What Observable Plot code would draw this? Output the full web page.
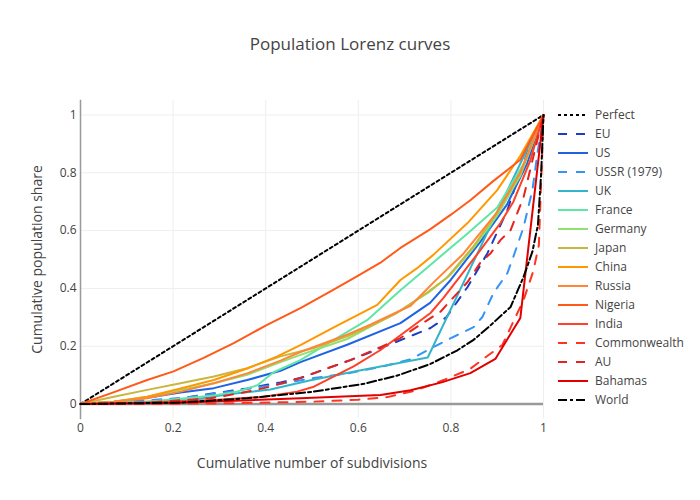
<!DOCTYPE html>
<html>
<head>
<meta charset="utf-8">
<script src="https://cdn.jsdelivr.net/npm/d3@7"></script>
<script src="https://cdn.jsdelivr.net/npm/@observablehq/plot@0.6"></script>
<style>
  html, body { margin: 0; padding: 0; background: #fff; }
  #wrap { position: relative; width: 700px; height: 500px; font-family: "Open Sans", sans-serif; }
  #title { position: absolute; left: 0; width: 700px; top: 32px; text-align: center; font-size: 17px; color: #444; }
  #legend { position: absolute; left: 556px; top: 105px; font-size: 12px; color: #444; }
  #legend .row { height: 19px; display: flex; align-items: center; }
  #legend svg { margin-right: 5px; }
</style>
</head>
<body>
<div id="wrap">
  <div id="title">Population Lorenz curves</div>
  <div id="legend"></div>
</div>
<script>
// ---- data (x = cumulative share of subdivisions, y = cumulative population share) ----
const perfect = [[0,0],[1,1]];
const eu = [[0,0],[0.144,0.008],[0.216,0.02],[0.288,0.037],[0.36,0.054],[0.432,0.075],[0.475,0.09],[0.583,0.152],[0.676,0.211],[0.756,0.263],[0.79,0.3],[0.836,0.405],[0.879,0.522],[0.922,0.671],[0.946,0.786],[0.978,0.924],[1,1]];
const us = [[0,0],[0.072,0.008],[0.144,0.022],[0.216,0.04],[0.288,0.055],[0.36,0.083],[0.432,0.115],[0.475,0.145],[0.576,0.205],[0.691,0.28],[0.755,0.35],[0.8,0.43],[0.863,0.56],[0.921,0.69],[0.964,0.83],[1,1]];
const ussr = [[0,0],[0.216,0.02],[0.31,0.04],[0.432,0.07],[0.504,0.09],[0.576,0.106],[0.648,0.128],[0.713,0.155],[0.762,0.197],[0.8,0.228],[0.849,0.266],[0.868,0.301],[0.892,0.384],[0.922,0.453],[0.935,0.51],[0.957,0.612],[0.976,0.74],[0.987,0.868],[1,1]];
const uk = [[0,0],[0.1,0.005],[0.237,0.014],[0.324,0.035],[0.41,0.05],[0.497,0.082],[0.6,0.115],[0.75,0.161],[1,1]];
const france = [[0,0],[0.144,0.008],[0.216,0.018],[0.288,0.03],[0.338,0.043],[0.382,0.065],[0.417,0.11],[0.475,0.152],[0.54,0.215],[0.619,0.29],[0.691,0.394],[0.762,0.49],[0.836,0.59],[0.9,0.68],[0.957,0.83],[1,1]];
const germany = [[0,0],[0.072,0.008],[0.144,0.025],[0.216,0.049],[0.288,0.072],[0.36,0.101],[0.432,0.145],[0.475,0.17],[0.576,0.225],[0.626,0.268],[0.683,0.315],[0.755,0.39],[0.799,0.447],[0.849,0.54],[0.899,0.65],[0.95,0.79],[1,1]];
const japan = [[0,0],[0.072,0.025],[0.144,0.049],[0.216,0.072],[0.288,0.095],[0.36,0.124],[0.432,0.165],[0.504,0.194],[0.576,0.234],[0.626,0.27],[0.683,0.315],[0.748,0.385],[0.791,0.436],[0.849,0.546],[0.899,0.662],[0.95,0.801],[1,1]];
const china = [[0,0],[0.072,0.008],[0.144,0.025],[0.216,0.054],[0.288,0.083],[0.36,0.123],[0.424,0.164],[0.475,0.204],[0.547,0.265],[0.641,0.343],[0.691,0.429],[0.727,0.47],[0.762,0.516],[0.836,0.626],[0.9,0.74],[0.95,0.859],[1,1]];
const russia = [[0,0],[0.072,0.008],[0.144,0.02],[0.216,0.043],[0.288,0.072],[0.36,0.106],[0.432,0.15],[0.475,0.18],[0.576,0.24],[0.626,0.275],[0.713,0.34],[0.762,0.42],[0.827,0.52],[0.9,0.664],[0.95,0.801],[1,1]];
const nigeria = [[0,0],[0.065,0.037],[0.144,0.083],[0.201,0.113],[0.266,0.16],[0.331,0.211],[0.403,0.274],[0.475,0.332],[0.54,0.39],[0.597,0.442],[0.647,0.488],[0.691,0.54],[0.755,0.604],[0.8,0.655],[0.842,0.705],[0.892,0.772],[0.95,0.845],[1,1]];
const india = [[0,0],[0.144,0.005],[0.288,0.014],[0.396,0.025],[0.468,0.043],[0.504,0.06],[0.59,0.13],[0.648,0.187],[0.756,0.315],[0.784,0.367],[0.864,0.533],[0.907,0.626],[0.935,0.7],[0.971,0.84],[1,1]];
const commonwealth = [[0,0],[0.3,0.002],[0.5,0.008],[0.6,0.015],[0.663,0.024],[0.72,0.045],[0.784,0.083],[0.84,0.12],[0.886,0.175],[0.911,0.204],[0.957,0.36],[0.978,0.46],[0.99,0.55],[1,1]];
const au = [[0,0],[0.15,0.006],[0.281,0.02],[0.346,0.038],[0.41,0.06],[0.475,0.09],[0.583,0.152],[0.648,0.197],[0.691,0.228],[0.72,0.26],[0.778,0.32],[0.806,0.37],[0.836,0.422],[0.864,0.49],[0.886,0.522],[0.907,0.567],[0.929,0.602],[0.957,0.716],[0.978,0.855],[1,1]];
const bahamas = [[0,0],[0.2,0.004],[0.475,0.02],[0.648,0.031],[0.713,0.048],[0.78,0.075],[0.842,0.107],[0.896,0.156],[0.95,0.298],[1,1]];
const world = [[0,0],[0.216,0.005],[0.36,0.02],[0.504,0.043],[0.612,0.07],[0.683,0.098],[0.755,0.138],[0.813,0.185],[0.849,0.222],[0.886,0.273],[0.929,0.336],[0.957,0.44],[0.976,0.527],[0.988,0.62],[0.995,0.8],[1,1]];

const seriesNames = ["Perfect","EU","US","USSR (1979)","UK","France","Germany","Japan","China","Russia","Nigeria","India","Commonwealth","AU","Bahamas","World"];
const seriesData = [perfect, eu, us, ussr, uk, france, germany, japan, china, russia, nigeria, india, commonwealth, au, bahamas, world];
const axisTicks = [0, 0.2, 0.4, 0.6, 0.8, 1];

// ---- styles ----
const seriesColors = ["#000000","#1c3fbf","#1f62e3","#3593f5","#33b4c9","#5ee6a6","#8fe06e","#c9b63f","#ff9800","#ff8636","#ff5a1a","#ff4128","#ff3322","#e52420","#e00000","#000000"];
const dashes = {solid: null, dot: "3,3", dash: "9,9", dashdot: "9,3,3,3"};
const seriesDash = ["dot","dash","solid","dash","solid","solid","solid","solid","solid","solid","solid","solid","dash","dash","solid","dashdot"];

const series = seriesNames.map((name, i) => ({name, data: seriesData[i], color: seriesColors[i], dash: dashes[seriesDash[i]]}));

const fmt = d3.format("~g");
const chart = Plot.plot({
  width: 700,
  height: 500,
  marginLeft: 80,
  marginRight: 157,
  marginTop: 100,
  marginBottom: 82,
  style: {fontFamily: "Open Sans, sans-serif", fontSize: "12px", color: "#444", background: "transparent"},
  x: {domain: [0, 1]},
  y: {domain: [-0.05, 1.05]},
  marks: [
    Plot.gridX(axisTicks.slice(1), {stroke: "#eeeeee", strokeOpacity: 1}),
    Plot.gridY(axisTicks.slice(1), {stroke: "#eeeeee", strokeOpacity: 1}),
    Plot.ruleY([0], {stroke: "#999", strokeWidth: 2.5}),
    Plot.frame({anchor: "left", stroke: "#999", strokeWidth: 1.5}),
    Plot.axisX(axisTicks, {tickSize: 0, tickPadding: 5, tickFormat: fmt, label: null, fontSize: 12, fill: "#444"}),
    Plot.axisY(axisTicks, {tickSize: 0, tickPadding: 4, tickFormat: fmt, label: null, fontSize: 12, fill: "#444"}),
    ...series.map(s => Plot.line(s.data, {x: d => d[0], y: d => d[1], stroke: s.color, strokeWidth: 2, strokeDasharray: s.dash, strokeLinejoin: "round"})),
    Plot.text(["Cumulative number of subdivisions"], {frameAnchor: "bottom", textAnchor: "middle", dy: 49, fontSize: 14, fill: "#444"}),
    Plot.text(["Cumulative population share"], {frameAnchor: "left", textAnchor: "middle", rotate: -90, dx: -43, fontSize: 14, fill: "#444"})
  ]
});
const wrap = document.getElementById("wrap");
chart.style.position = "absolute";
chart.style.left = "0";
chart.style.top = "0";
wrap.insertBefore(chart, wrap.firstChild);

// ---- legend ----
const legend = d3.select("#legend");
series.forEach(s => {
  const row = legend.append("div").attr("class", "row");
  const svg = row.append("svg").attr("width", 34).attr("height", 10);
  svg.append("line").attr("x1", 2).attr("x2", 32).attr("y1", 5).attr("y2", 5)
    .attr("stroke", s.color).attr("stroke-width", 2).attr("stroke-dasharray", s.dash);
  row.append("span").text(s.name);
});
</script>
</body>
</html>
